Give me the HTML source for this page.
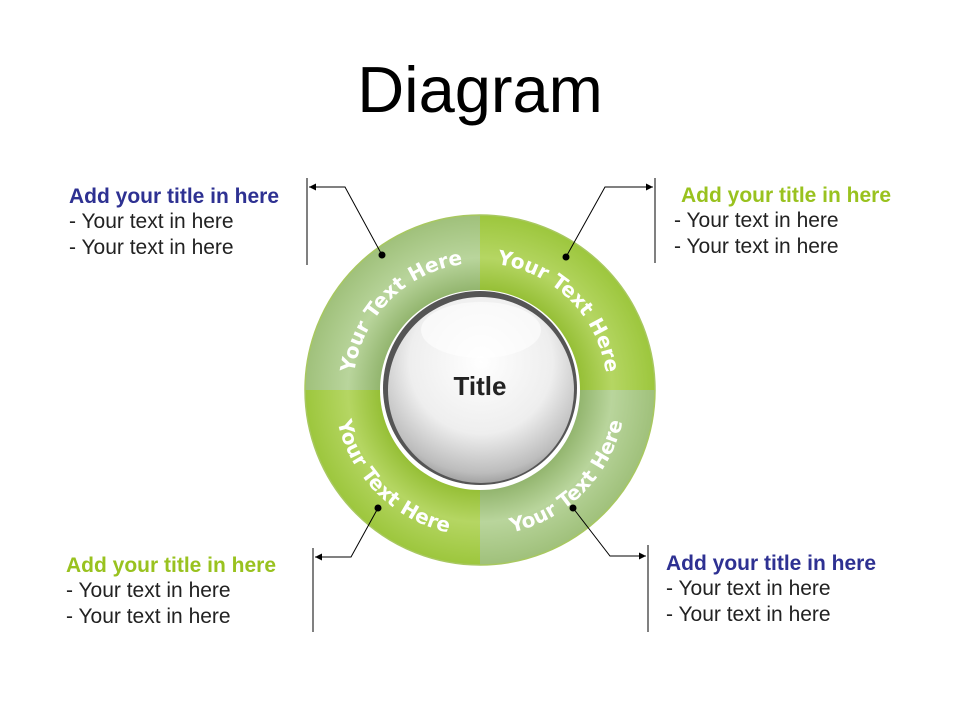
<!DOCTYPE html>
<html><head><meta charset="utf-8"><style>
html,body{margin:0;padding:0;background:#fff;}
body{width:960px;height:720px;overflow:hidden;}
</style></head><body>
<svg width="960" height="720" viewBox="0 0 960 720" xmlns="http://www.w3.org/2000/svg" font-family="Liberation Sans, Arial, sans-serif">
<defs>
<radialGradient id="gA" cx="480" cy="390" r="176" gradientUnits="userSpaceOnUse">
<stop offset="0.55" stop-color="#8fb26a"/><stop offset="0.75" stop-color="#b9d59c"/><stop offset="1" stop-color="#9fc07a"/></radialGradient>
<radialGradient id="gB" cx="480" cy="390" r="176" gradientUnits="userSpaceOnUse">
<stop offset="0.55" stop-color="#93bd32"/><stop offset="0.75" stop-color="#b5d663"/><stop offset="1" stop-color="#9cc63c"/></radialGradient>
<radialGradient id="sph" cx="0.5" cy="0.35" r="0.7">
<stop offset="0" stop-color="#ffffff"/><stop offset="0.55" stop-color="#eeeeee"/><stop offset="0.85" stop-color="#bdbdbd"/><stop offset="1" stop-color="#8a8a8a"/></radialGradient>
<marker id="ar" viewBox="0 0 10 10" refX="10" refY="5" markerWidth="7" markerHeight="7" orient="auto"><path d="M0,0 L10,5 L0,10 z" fill="#000"/></marker>
<path id="pTL" d="M353,390 A127,127 0 0 1 480,263"/>
<path id="pTR" d="M480,263 A127,127 0 0 1 607,390"/>
<path id="pBL" d="M334,390 A146,146 0 0 0 480,536"/>
<path id="pBR" d="M480,536 A146,146 0 0 0 626,390"/>
</defs>
<text x="480" y="112" text-anchor="middle" font-size="65" fill="#000">Diagram</text>

<path d="M305,390 A175,175 0 0 1 480,215 L480,290 A100,100 0 0 0 380,390 Z" fill="url(#gA)"/>
<path d="M480,215 A175,175 0 0 1 655,390 L580,390 A100,100 0 0 0 480,290 Z" fill="url(#gB)"/>
<path d="M305,390 A175,175 0 0 0 480,565 L480,490 A100,100 0 0 1 380,390 Z" fill="url(#gB)"/>
<path d="M480,565 A175,175 0 0 0 655,390 L580,390 A100,100 0 0 1 480,490 Z" fill="url(#gA)"/>
<circle cx="480" cy="390" r="175" fill="none" stroke="#a8c860" stroke-width="1.5"/>
<circle cx="480" cy="388" r="97" fill="#555"/>
<circle cx="481" cy="390" r="93" fill="url(#sph)"/>
<ellipse cx="481" cy="330" rx="60" ry="28" fill="#fff" opacity="0.6"/>
<text x="480" y="395" text-anchor="middle" font-size="26" font-weight="bold" fill="#222">Title</text>

<g fill="#fff" font-size="20" font-weight="600" font-family="DejaVu Sans, sans-serif">
<text><textPath href="#pTL" startOffset="50%" text-anchor="middle">Your Text Here</textPath></text>
<text><textPath href="#pTR" startOffset="50%" text-anchor="middle">Your Text Here</textPath></text>
<text><textPath href="#pBL" startOffset="50%" text-anchor="middle">Your Text Here</textPath></text>
<text><textPath href="#pBR" startOffset="50%" text-anchor="middle">Your Text Here</textPath></text>
</g>

<g stroke="#000" stroke-width="1" fill="none">
<line x1="307" y1="178" x2="307" y2="265"/>
<polyline points="382,255 345,187 309,187" marker-end="url(#ar)"/>
<line x1="655" y1="178" x2="655" y2="263"/>
<polyline points="566,257 605,187 653,187" marker-end="url(#ar)"/>
<line x1="313" y1="548" x2="313" y2="632"/>
<polyline points="378,508 351,557 315,557" marker-end="url(#ar)"/>
<line x1="648" y1="545" x2="648" y2="632"/>
<polyline points="573,508 610,556 646,556" marker-end="url(#ar)"/>
</g>
<g fill="#000">
<circle cx="382" cy="255" r="3.5"/><circle cx="566" cy="257" r="3.5"/>
<circle cx="378" cy="508" r="3.5"/><circle cx="573" cy="508" r="3.5"/>
</g>

<g font-size="21" fill="#222">
<text x="69" y="203" font-weight="bold" fill="#2e3192" font-size="21">Add your title in here</text>
<text x="69" y="228">- Your text in here</text>
<text x="69" y="254">- Your text in here</text>
<text x="681" y="202" font-weight="bold" fill="#99c21f" font-size="21">Add your title in here</text>
<text x="674" y="227">- Your text in here</text>
<text x="674" y="253">- Your text in here</text>
<text x="66" y="572" font-weight="bold" fill="#99c21f" font-size="21">Add your title in here</text>
<text x="66" y="597">- Your text in here</text>
<text x="66" y="623">- Your text in here</text>
<text x="666" y="570" font-weight="bold" fill="#2e3192" font-size="21">Add your title in here</text>
<text x="666" y="595">- Your text in here</text>
<text x="666" y="621">- Your text in here</text>
</g>
</svg>
</body></html>
